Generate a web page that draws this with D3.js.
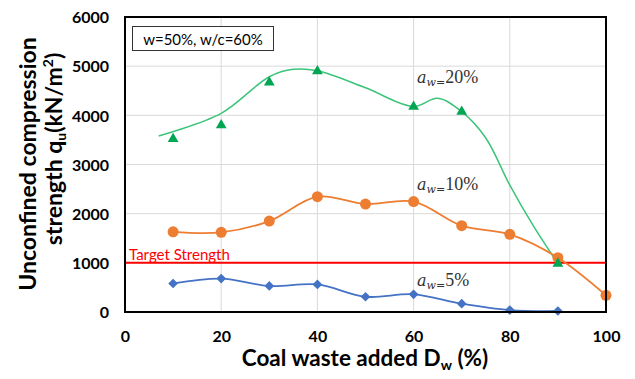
<!DOCTYPE html>
<html><head><meta charset="utf-8">
<script src="https://cdn.jsdelivr.net/npm/d3@7"></script>
<style>body{margin:0;background:#fff;}svg{display:block;}</style>
</head><body>
<svg id="c" width="635" height="379"></svg>
<script>
// ---- data ----
const xTicks = [0, 20, 40, 60, 80, 100];
const yTicks = [0, 1000, 2000, 3000, 4000, 5000, 6000];
const aw5X = [10, 20, 30, 40, 50, 60, 70, 80, 90];
const aw5Y = [580, 680, 530, 560, 310, 360, 170, 40, 20];
const aw10X = [10, 20, 30, 40, 50, 60, 70, 80, 90, 100];
const aw10Y = [1630, 1620, 1850, 2345, 2195, 2245, 1755, 1580, 1105, 340];
const aw20X = [10, 20, 30, 40, 60, 70, 90];
const aw20Y = [3520, 3800, 4670, 4900, 4175, 4075, 985];
// smoothed trend curve of the 20% series
const trendX = [7, 20, 30, 35, 40, 50, 60, 65, 70, 75, 80, 85, 90];
const trendY = [3580, 4040, 4785, 4935, 4905, 4560, 4180, 4345, 4075, 3540, 2580, 1735, 985];
const targetStrength = 1000;
const seriesLabels = ["20%", "10%", "5%"];

const svg = d3.select("#c");
const m = {l: 125, r: 606, t: 17, b: 312};
const x = d3.scaleLinear().domain([0, 100]).range([m.l, m.r]);
const y = d3.scaleLinear().domain([0, 6000]).range([m.b, m.t]);
const font = "Lato, 'Open Sans', sans-serif";

// grid
const g = svg.append("g");
g.selectAll(".vg").data(xTicks.filter(d => d > 0 && d < 100)).enter().append("line")
  .attr("x1", d => x(d)).attr("x2", d => x(d)).attr("y1", m.t).attr("y2", m.b)
  .attr("stroke", "#d9d9d9").attr("stroke-width", 1);
g.selectAll(".hg").data(yTicks.filter(d => d > 0 && d < 6000)).enter().append("line")
  .attr("y1", d => y(d)).attr("y2", d => y(d)).attr("x1", m.l).attr("x2", m.r)
  .attr("stroke", "#d9d9d9").attr("stroke-width", 1);

// axes (labels only)
const xAxis = d3.axisBottom(x).tickValues(xTicks).tickFormat(d3.format("d")).tickSize(0).tickPadding(0);
const xa = svg.append("g").attr("transform", `translate(0,${m.b})`).call(xAxis);
xa.select(".domain").remove();
xa.selectAll("text").attr("y", 30).attr("dy", 0).attr("font-family", font).attr("font-weight", "bold")
  .attr("font-size", 16).attr("fill", "#000");
const yAxis = d3.axisLeft(y).tickValues(yTicks).tickFormat(d3.format("d")).tickSize(0).tickPadding(0);
const ya = svg.append("g").attr("transform", `translate(${m.l},0)`).call(yAxis);
ya.select(".domain").remove();
ya.selectAll("text").attr("x", -16).attr("dy", "0.36em").attr("font-family", font).attr("font-weight", "bold")
  .attr("font-size", 16).attr("fill", "#000");

// target line
svg.append("line").attr("x1", x(0)).attr("x2", x(100)).attr("y1", y(targetStrength)).attr("y2", y(targetStrength))
  .attr("stroke", "#ff0000").attr("stroke-width", 2);
svg.append("text").attr("x", x(0) + 4).attr("y", y(targetStrength) - 3)
  .attr("font-family", font).attr("font-size", 15).attr("fill", "#ff0000").text("Target Strength");

// lines
const line = d3.line().x(d => x(d[0])).y(d => y(d[1])).curve(d3.curveCatmullRom.alpha(0.5));
const zip = (a, b) => a.map((v, i) => [v, b[i]]);
svg.append("path").datum(zip(trendX, trendY)).attr("d", line).attr("fill", "none")
  .attr("stroke", "#3cc47a").attr("stroke-width", 1.5);
svg.append("path").datum(zip(aw10X, aw10Y)).attr("d", line).attr("fill", "none")
  .attr("stroke", "#ed7d31").attr("stroke-width", 1.8);
svg.append("path").datum(zip(aw5X, aw5Y)).attr("d", line).attr("fill", "none")
  .attr("stroke", "#4472c4").attr("stroke-width", 1.8);

// markers
svg.selectAll(".dm").data(zip(aw5X, aw5Y)).enter().append("path")
  .attr("d", d3.symbol().type(d3.symbolDiamond2).size(60))
  .attr("transform", d => `translate(${x(d[0])},${y(d[1])})`).attr("fill", "#4472c4");
svg.selectAll(".cm").data(zip(aw10X, aw10Y)).enter().append("circle")
  .attr("cx", d => x(d[0])).attr("cy", d => y(d[1])).attr("r", 5.5).attr("fill", "#ed7d31");
svg.selectAll(".tm").data(zip(aw20X, aw20Y)).enter().append("path")
  .attr("d", d3.symbol().type(d3.symbolTriangle).size(50))
  .attr("transform", d => `translate(${x(d[0])},${y(d[1])})`).attr("fill", "#00a651");

// border
svg.append("rect").attr("x", m.l).attr("y", m.t).attr("width", m.r - m.l).attr("height", m.b - m.t)
  .attr("fill", "none").attr("stroke", "#000").attr("stroke-width", 2);

// annotation box
svg.append("rect").attr("x", 132.5).attr("y", 26.5).attr("width", 141).attr("height", 24)
  .attr("fill", "#fff").attr("stroke", "#333").attr("stroke-width", 1);
svg.append("text").attr("x", 203).attr("y", 44.5).attr("text-anchor", "middle")
  .attr("font-family", font).attr("font-size", 15).attr("fill", "#000").text("w=50%, w/c=60%");

// series labels
function awLabel(px, py, pct) {
  const t = svg.append("text").attr("x", px).attr("y", py).attr("font-family", "'DejaVu Serif', 'Liberation Serif', serif")
    .attr("fill", "#333");
  t.append("tspan").attr("font-style", "italic").attr("font-size", 16).text("a");
  t.append("tspan").attr("font-style", "italic").attr("font-size", 11).attr("dy", 3).text("w=");
  t.append("tspan").attr("dy", -3).attr("font-family", "'Liberation Serif', serif").attr("font-size", 18).text(pct);
}
awLabel(417, 83, seriesLabels[0]);
awLabel(417, 190, seriesLabels[1]);
awLabel(417, 286, seriesLabels[2]);

// axis titles
const xt = svg.append("text").attr("x", 365).attr("y", 366).attr("text-anchor", "middle")
  .attr("font-family", font).attr("font-weight", "bold").attr("font-size", 22.5).attr("fill", "#000");
xt.append("tspan").text("Coal waste added D");
xt.append("tspan").attr("font-size", 14).attr("dy", 4).text("w");
xt.append("tspan").attr("dy", -4).text(" (%)");

const yt = svg.append("text").attr("transform", "rotate(-90)")
  .attr("text-anchor", "middle").attr("font-family", font).attr("font-weight", "bold")
  .attr("font-size", 23).attr("fill", "#000");
yt.append("tspan").attr("x", -164).attr("y", 36).text("Unconfined compression");
yt.append("tspan").attr("x", -149).attr("y", 62).text("strength q");
yt.append("tspan").attr("font-size", 14).attr("dy", 4).text("u");
yt.append("tspan").attr("dy", -4).text("(kN/m");
yt.append("tspan").attr("font-size", 14).attr("dy", -9).text("2");
yt.append("tspan").attr("dy", 9).text(")");
</script>
</body></html>
